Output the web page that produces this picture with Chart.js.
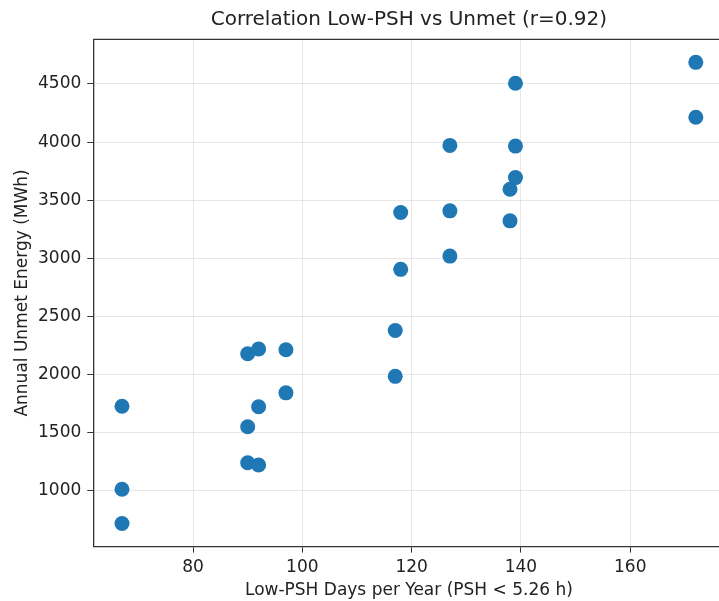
<!DOCTYPE html>
<html>
<head>
<meta charset="utf-8">
<title>Correlation Low-PSH vs Unmet</title>
<script src="https://cdn.jsdelivr.net/npm/chart.js@4/dist/chart.umd.min.js"></script>
<style>
  html, body { margin: 0; padding: 0; background: #fff; overflow: hidden; }
  #wrap { width: 719px; height: 601px; overflow: hidden; }
</style>
</head>
<body>
<div id="wrap">
  <canvas id="scatter-chart" width="732" height="601"></canvas>
</div>
<script>
'use strict';

// Data

let lowPshDays = [67, 67, 67, 90, 90, 90, 92, 92, 92, 97, 97, 117, 117, 118, 118,
  127, 127, 127, 138, 138, 139, 139, 139, 172, 172];
let unmetEnergy = [1729, 1015, 720, 2180, 1552, 1243, 2221, 1724, 1223, 2215, 1844,
  2380, 1986, 3395, 2906, 3972, 3409, 3020, 3595, 3323, 4506, 3966, 3695, 4686, 4214];
let xTicks = [80, 100, 120, 140, 160];
let yTicks = [1000, 1500, 2000, 2500, 3000, 3500, 4000, 4500];

const fontFamily = '"DejaVu Sans", sans-serif';
const dotColor = '#1f77b4';
const spineColor = '#333';
const gridColor = 'rgba(176, 176, 176, 0.3)';

// Build the point list from the two arrays

function makePoints() {
  let pts = [];
  for (let i = 0; i < lowPshDays.length; i++) {
    pts.push({x: lowPshDays[i], y: unmetEnergy[i]});
  }
  return pts;
}

// 5% margins like matplotlib

function padRange(values) {
  let lo = Math.min(...values);
  let hi = Math.max(...values);
  let m = (hi - lo) * 0.05;
  return {min: lo - m, max: hi + m};
}

let xRange = padRange(lowPshDays);
let yRange = padRange(unmetEnergy);

function useTicks(list) {
  return function (scale) {
    scale.ticks = list.map(v => ({value: v}));
  };
}

// plain numbers, no thousands comma
function plainLabel(value) {
  return String(value);
}

// Top and right spines (chart.js only draws bottom/left)

const boxPlugin = {
  id: 'boxPlugin',
  afterDraw(chart) {
    let a = chart.chartArea;
    let ctx = chart.ctx;
    ctx.save();
    ctx.strokeStyle = spineColor;
    ctx.lineWidth = 1.3;
    ctx.beginPath();
    ctx.moveTo(a.left, a.top);
    ctx.lineTo(a.right, a.top);
    ctx.lineTo(a.right, a.bottom);
    ctx.stroke();
    ctx.restore();
  }
};

let canvasEl = document.getElementById('scatter-chart');

new Chart(canvasEl.getContext('2d'), {
  type: 'scatter',
  data: {
    datasets: [{
      label: 'Years',
      data: makePoints(),
      backgroundColor: dotColor,
      borderWidth: 0,
      pointRadius: 7.5,
      pointHoverRadius: 7.5
    }]
  },
  options: {
    responsive: false,
    animation: false,
    layout: {padding: {left: 0, right: 7, top: 0, bottom: 0}},
    plugins: {
      legend: {display: false},
      tooltip: {enabled: false},
      title: {
        display: true,
        fullSize: false,
        text: 'Correlation Low-PSH vs Unmet (r=0.92)',
        color: '#222',
        font: {family: fontFamily, size: 20, weight: 'normal', lineHeight: 1.2},
        padding: {top: 8, bottom: 7.3}
      }
    },
    scales: {
      x: {
        type: 'linear',
        min: xRange.min,
        max: xRange.max,
        afterBuildTicks: useTicks(xTicks),
        afterFit: function (scale) { scale.height = 54.4; },
        ticks: {
          color: '#222',
          padding: 4.5,
          callback: plainLabel,
          font: {family: fontFamily, size: 17}
        },
        grid: {color: gridColor, tickColor: spineColor, tickLength: 6, lineWidth: 1},
        border: {color: spineColor, width: 1.3},
        title: {
          display: true,
          text: 'Low-PSH Days per Year (PSH < 5.26 h)',
          color: '#222',
          font: {family: fontFamily, size: 17, lineHeight: 1.2},
          padding: {top: 0, bottom: 0}
        }
      },
      y: {
        type: 'linear',
        min: yRange.min,
        max: yRange.max,
        afterBuildTicks: useTicks(yTicks),
        afterFit: function (scale) { scale.width = 93.3; },
        ticks: {
          color: '#222',
          padding: 6,
          callback: plainLabel,
          font: {family: fontFamily, size: 17}
        },
        grid: {color: gridColor, tickColor: spineColor, tickLength: 6, lineWidth: 1},
        border: {color: spineColor, width: 1.3},
        title: {
          display: true,
          text: 'Annual Unmet Energy (MWh)',
          color: '#222',
          font: {family: fontFamily, size: 17, lineHeight: 1.2},
          padding: {top: 12, bottom: 0}
        }
      }
    }
  },
  plugins: [boxPlugin]
});
</script>
</body>
</html>
